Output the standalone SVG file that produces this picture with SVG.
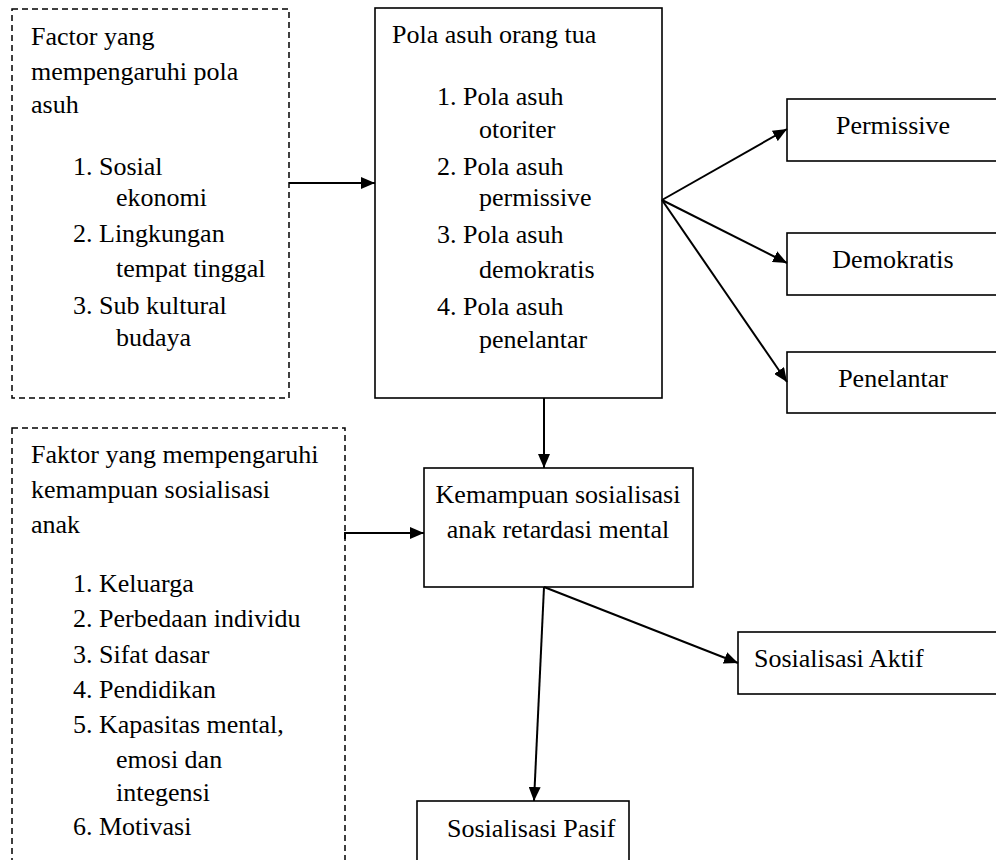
<svg xmlns="http://www.w3.org/2000/svg" width="996" height="860" viewBox="0 0 996 860">
<style>
  text { font-family: "Liberation Serif", Tinos, "Times New Roman", Times, "Noto Serif", "DejaVu Serif", FreeSerif, serif; font-size: 26px; fill: #000; }
  .box { fill: #fff; stroke: #000; stroke-width: 1.6; }
  .dash { fill: #fff; stroke: #000; stroke-width: 1.5; stroke-dasharray: 6 4; }
  .conn { fill: none; stroke: #000; stroke-width: 2; marker-end: url(#arrow); }
  .mid { text-anchor: middle; }
</style>
<defs>
  <marker id="arrow" markerUnits="userSpaceOnUse" markerWidth="15" markerHeight="12" refX="14" refY="6" orient="auto">
    <path d="M0,0 L14,6 L0,12 Z" fill="#000"/>
  </marker>
</defs>
<rect width="996" height="860" fill="#fff"/>

<g id="factor-pola-asuh">
  <rect class="dash" x="12" y="9" width="277" height="389"/>
  <text x="31" y="45">Factor yang</text>
  <text x="31" y="80">mempengaruhi pola</text>
  <text x="31" y="113">asuh</text>
  <text x="73" y="175">1. Sosial</text>
  <text x="116" y="206">ekonomi</text>
  <text x="73" y="242">2. Lingkungan</text>
  <text x="116" y="277">tempat tinggal</text>
  <text x="73" y="314">3. Sub kultural</text>
  <text x="116" y="346">budaya</text>
</g>

<g id="pola-asuh">
  <rect class="box" x="375" y="8" width="287" height="390"/>
  <text x="392" y="43">Pola asuh orang tua</text>
  <text x="437" y="105">1. Pola asuh</text>
  <text x="479" y="138">otoriter</text>
  <text x="437" y="175">2. Pola asuh</text>
  <text x="479" y="206">permissive</text>
  <text x="437" y="243">3. Pola asuh</text>
  <text x="479" y="278">demokratis</text>
  <text x="437" y="315">4. Pola asuh</text>
  <text x="479" y="348">penelantar</text>
</g>

<g id="permissive">
  <rect class="box" x="787" y="99" width="230" height="62"/>
  <text class="mid" x="893" y="134">Permissive</text>
</g>
<g id="demokratis">
  <rect class="box" x="787" y="233" width="230" height="62"/>
  <text class="mid" x="893" y="268">Demokratis</text>
</g>
<g id="penelantar">
  <rect class="box" x="787" y="352" width="230" height="61"/>
  <text class="mid" x="893" y="387">Penelantar</text>
</g>

<g id="factor-sosialisasi">
  <rect class="dash" x="12" y="428" width="333" height="460"/>
  <text x="31" y="463">Faktor yang mempengaruhi</text>
  <text x="31" y="498">kemampuan sosialisasi</text>
  <text x="31" y="533">anak</text>
  <text x="73" y="592">1. Keluarga</text>
  <text x="73" y="627">2. Perbedaan individu</text>
  <text x="73" y="663">3. Sifat dasar</text>
  <text x="73" y="698">4. Pendidikan</text>
  <text x="73" y="733">5. Kapasitas mental,</text>
  <text x="116" y="768">emosi dan</text>
  <text x="116" y="801">integensi</text>
  <text x="73" y="835">6. Motivasi</text>
</g>

<g id="kemampuan">
  <rect class="box" x="424" y="468" width="269" height="119"/>
  <text class="mid" x="558" y="503">Kemampuan sosialisasi</text>
  <text class="mid" x="558" y="538">anak retardasi mental</text>
</g>

<g id="aktif">
  <rect class="box" x="738" y="632" width="280" height="62"/>
  <text x="754" y="667">Sosialisasi Aktif</text>
</g>

<g id="pasif">
  <rect class="box" x="417" y="801" width="212" height="80"/>
  <text x="447" y="837">Sosialisasi Pasif</text>
</g>

<g id="connectors">
  <line class="conn" x1="289" y1="183" x2="375" y2="183"/>
  <line class="conn" x1="662" y1="200" x2="787" y2="129"/>
  <line class="conn" x1="662" y1="200" x2="787" y2="263"/>
  <line class="conn" x1="662" y1="200" x2="787" y2="382"/>
  <line class="conn" x1="544" y1="398" x2="544" y2="468"/>
  <polyline class="conn" points="345,539 345,533 424,533"/>
  <line class="conn" x1="544" y1="587" x2="738" y2="663"/>
  <line class="conn" x1="544" y1="587" x2="534" y2="801"/>
</g>
</svg>
